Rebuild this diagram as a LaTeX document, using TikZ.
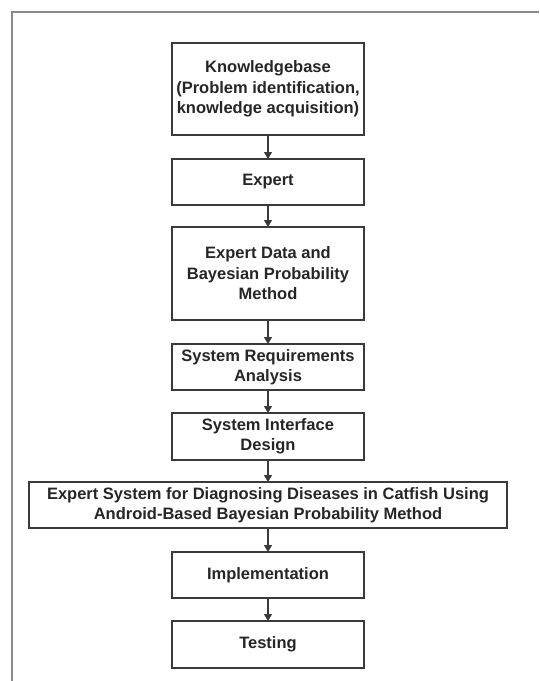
\documentclass[tikz,border=0pt]{standalone}
\usepackage{fontspec}
\setmainfont{Liberation Sans}
\usetikzlibrary{arrows.meta}
\definecolor{edgec}{HTML}{3A3A3A}
\definecolor{framec}{HTML}{8A8A8A}
\definecolor{txtc}{HTML}{262626}
\tikzset{
  stepbox/.style={draw=edgec, line width=1.4pt, fill=white, inner sep=0pt, outer sep=0pt,
    minimum width=192pt, align=center, text=txtc,
    font=\fontsize{16.5}{20.5}\selectfont\bfseries},
  flow/.style={draw=edgec, line width=1.1pt, -{Triangle[length=7pt,width=8pt]}, shorten >=0pt},
  framebox/.style={draw=framec, line width=1.5pt}
}
\begin{document}
\begin{tikzpicture}[x=1pt,y=-1pt]
\useasboundingbox (0,0) rectangle (539,681);
\fill[white] (0,0) rectangle (539,681);
\coordinate (fa) at (12,681);
\coordinate (fb) at (12,12);
\coordinate (fc) at (539,12);
\draw[framebox] (fa) -- (fb) -- (fc);

\node[stepbox, minimum height=92pt] (kb) at (268,89) {Knowledgebase\\(Problem identification,\\knowledge acquisition)};
\node[stepbox, minimum height=46pt] (ex) at (268,182) {Expert};
\node[stepbox, minimum height=93pt] (ed) at (268,273.5) {Expert Data and\\Bayesian Probability\\Method};
\node[stepbox, minimum height=46pt] (sr) at (268,367) {System Requirements\\Analysis};
\node[stepbox, minimum height=47pt] (si) at (268,436.5) {System Interface\\Design};
\node[stepbox, minimum height=46pt, minimum width=478pt] (es) at (268,505) {Expert System for Diagnosing Diseases in Catfish Using\\Android-Based Bayesian Probability Method};
\node[stepbox, minimum height=46pt] (im) at (268,575) {Implementation};
\node[stepbox, minimum height=47pt] (te) at (268,644.5) {Testing};

\draw[flow] (kb) -- (ex);
\draw[flow] (ex) -- (ed);
\draw[flow] (ed) -- (sr);
\draw[flow] (sr) -- (si);
\draw[flow] (si) -- (es);
\draw[flow] (es) -- (im);
\draw[flow] (im) -- (te);
\end{tikzpicture}
\end{document}
